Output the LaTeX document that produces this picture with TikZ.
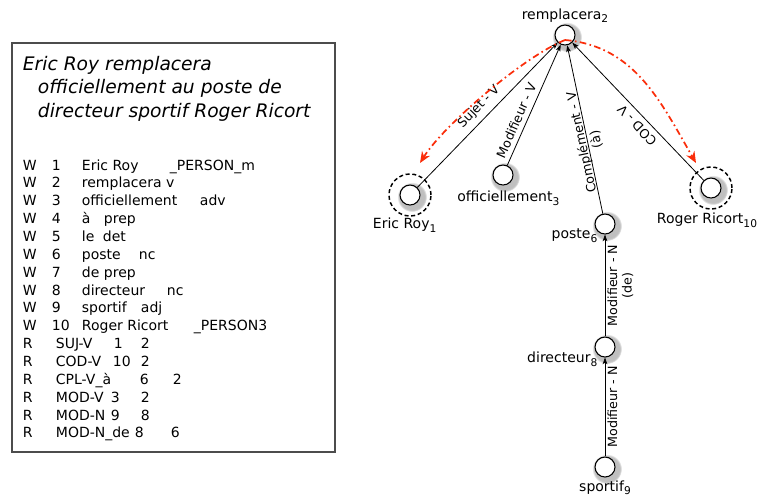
\documentclass[tikz,border=0pt]{standalone}
\usepackage{fontspec}
\setmainfont{DejaVu Sans}
\usetikzlibrary{arrows.meta, positioning, shadows}

\definecolor{arcred}{RGB}{250,45,10}
\newdimen\pxu \pxu=0.75pt
\newcommand{\wsub}[1]{\raisebox{-0.5ex}{\fontsize{8}{9}\selectfont #1}}
\newcommand{\tcol}[2]{\makebox[0pt][l]{\hspace*{#1\pxu}#2}}

\begin{document}
\begin{tikzpicture}[
    x=0.75pt, y=0.75pt,
    word/.style={circle, draw, fill=white, line width=0.8pt, minimum size=15pt, inner sep=0pt,
        circular drop shadow={shadow xshift=1pt, shadow yshift=-1pt, shadow scale=1.5, opacity=0.5}},
    ring/.style={circle, draw, line width=1.1pt, dash pattern=on 3pt off 2pt, minimum size=31.5pt, inner sep=0pt},
    lbl/.style={font=\fontsize{10.5}{12}\selectfont, inner sep=1pt},
    elbl/.style={sloped, allow upside down, font=\fontsize{9.5}{11}\selectfont, inner sep=1.5pt},
    dep/.style={-{Stealth[length=5pt, width=3.5pt, inset=1.2pt]}, line width=0.6pt},
    redarc/.style={-{Stealth[length=8.5pt, width=7pt]}, arcred, line width=1.3pt,
        dash pattern=on 5pt off 2.5pt on 1.2pt off 2.5pt},
    rowtxt/.style={anchor=base west, inner sep=0pt, font=\fontsize{10.5}{12}\selectfont},
    titletxt/.style={anchor=north west, align=left, inner sep=2pt, font=\fontsize{14}{17.6}\selectfont\itshape}
]
\useasboundingbox (0,0) rectangle (761,-501);

% Sentence and CoNLL-like listing
\draw[gray!60!black, line width=0.8pt] (12,-43) rectangle (335,-452);
\node[titletxt] (title) at (20,-53) {Eric Roy remplacera\\
    \hspace*{15\pxu}officiellement au poste de\\
    \hspace*{15\pxu}directeur sportif Roger Ricort};

\foreach \i/\cells in {
    1/{\tcol{0}{W}\tcol{29}{1}\tcol{59}{Eric Roy}\tcol{147}{\_PERSON\_m}},
    2/{\tcol{0}{W}\tcol{29}{2}\tcol{59}{remplacera v}},
    3/{\tcol{0}{W}\tcol{29}{3}\tcol{59}{officiellement}\tcol{177}{adv}},
    4/{\tcol{0}{W}\tcol{29}{4}\tcol{59}{à}\tcol{81}{prep}},
    5/{\tcol{0}{W}\tcol{29}{5}\tcol{59}{le}\tcol{80}{det}},
    6/{\tcol{0}{W}\tcol{29}{6}\tcol{59}{poste}\tcol{116}{nc}},
    7/{\tcol{0}{W}\tcol{29}{7}\tcol{59}{de}\tcol{81}{prep}},
    8/{\tcol{0}{W}\tcol{29}{8}\tcol{59}{directeur}\tcol{144}{nc}},
    9/{\tcol{0}{W}\tcol{29}{9}\tcol{59}{sportif}\tcol{118}{adj}},
    10/{\tcol{0}{W}\tcol{29}{10}\tcol{59}{Roger Ricort}\tcol{171}{\_PERSON3}},
    11/{\tcol{0}{R}\tcol{33}{SUJ-V}\tcol{91}{1}\tcol{118}{2}},
    12/{\tcol{0}{R}\tcol{33}{COD-V}\tcol{90}{10}\tcol{118}{2}},
    13/{\tcol{0}{R}\tcol{33}{CPL-V\_à}\tcol{117}{6}\tcol{150}{2}},
    14/{\tcol{0}{R}\tcol{33}{MOD-V}\tcol{88}{3}\tcol{118}{2}},
    15/{\tcol{0}{R}\tcol{33}{MOD-N}\tcol{88}{9}\tcol{118}{8}},
    16/{\tcol{0}{R}\tcol{33}{MOD-N\_de}\tcol{112}{8}\tcol{148}{6}}}
    \node[rowtxt] (row\i) at (22,{-170-17.86*(\i-1)}) {\cells};

% Dependency tree
\node[word] (rempl) at (565,-35) {};
\node[word] (eric) at (410,-195) {};
\node[ring] (ericring) at (eric) {};
\node[word] (offic) at (503,-175) {};
\node[word] (poste) at (605,-224) {};
\node[word] (direc) at (605,-347) {};
\node[word] (sport) at (605,-467) {};
\node[word] (roger) at (711,-188) {};
\node[ring] (rogerring) at (roger) {};

\node[lbl, above=0pt of rempl] (rempllbl) {remplacera\wsub{2}};
\node[lbl, below=0pt of ericring, xshift=-4pt] (ericlbl) {Eric Roy\wsub{1}};
\node[lbl, below=3pt of offic, xshift=4pt] (offlbl) {officiellement\wsub{3}};
\node[lbl, below left=-3pt and -1pt of poste] (postelbl) {poste\wsub{6}};
\node[lbl, below left=-3pt and -1pt of direc] (direclbl) {directeur\wsub{8}};
\node[lbl, below=1pt of sport] (sportlbl) {sportif\wsub{9}};
\node[lbl, below=1pt of rogerring, xshift=-3pt] (rogerlbl) {Roger Ricort\wsub{10}};

\draw[dep] (eric) -- node[elbl, above=2.5pt] (sujlbl) {Sujet - V} (rempl);
\draw[dep] (offic) -- node[elbl, above=2pt, pos=0.34] (modvlbl) {Modifieur - V} (rempl);
\draw[dep] (poste) -- node[elbl, align=center, pos=0.43, yshift=-1pt] (cpllbl) {Complément - V\\(à)} (rempl);
\draw[dep] (roger) -- node[elbl, above=2.5pt, pos=0.45] (codlbl) {COD - V} (rempl);
\draw[dep] (direc) -- node[elbl, below, align=center] (modndelbl) {Modifieur - N\\(de)} (poste);
\draw[dep] (sport) -- node[elbl, below] (modnlbl) {Modifieur - N} (direc);

% Subject / object swap
\coordinate (arctop) at (565,-40);
\coordinate (erictip) at (420,-163);
\coordinate (rogertip) at (696,-163);
\draw[redarc] (arctop) to[out=202, in=58, looseness=0.6] (erictip);
\draw[redarc] (arctop) to[out=-5, in=120] (rogertip);

\end{tikzpicture}
\end{document}
